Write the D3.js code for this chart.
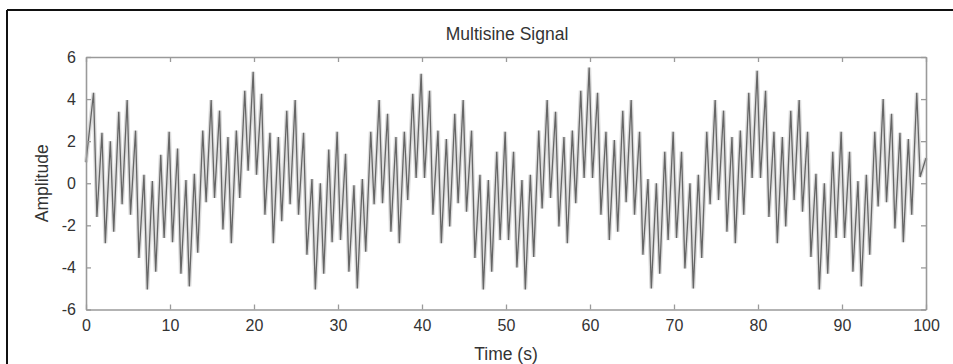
<!DOCTYPE html>
<html>
<head>
<meta charset="utf-8">
<script src="https://cdn.jsdelivr.net/npm/d3@7"></script>
<style>
  html, body { margin: 0; padding: 0; background: #fff; }
  svg { display: block; }
  text { font-family: "Liberation Sans", Arial, Helvetica, sans-serif; fill: #333; }
</style>
</head>
<body>
<svg id="chart" width="953" height="364"></svg>
<script>
// ---- Data ----
const chartTitle = "Multisine Signal";
const xLabel = "Time (s)";
const yLabel = "Amplitude";
const xTicks = [0, 10, 20, 30, 40, 50, 60, 70, 80, 90, 100];
const yTicks = [-6, -4, -2, 0, 2, 4, 6];

// value at t = 0 and at t = 100
const startAmp = 1.0;
const endAmp = 1.2;

// local maximum of each ~1 s cycle (cycle k, k = 1..99)
const peakAmp = [
  4.3, 2.4, 2.0, 3.4, 3.95, 2.5, 0.4, 0.1, 1.35, 2.45, 1.65, 0.15, 0.45, 2.5, 3.95, 3.45, 2.2, 2.5, 4.4, 5.3,
  4.25, 2.4, 2.2, 3.45, 3.95, 2.4, 0.2, 0.0, 1.6, 2.45, 1.4, -0.1, 0.2, 2.45, 3.95, 3.3, 2.2, 2.45, 4.25, 5.2,
  4.4, 2.5, 2.1, 3.3, 3.95, 2.5, 0.4, 0.15, 1.5, 2.45, 1.5, 0.15, 0.4, 2.5, 3.95, 3.4, 2.2, 2.5, 4.4, 5.5,
  4.3, 2.45, 2.05, 3.45, 3.95, 2.45, 0.2, 0.0, 1.5, 2.45, 1.5, 0.0, 0.4, 2.45, 3.95, 3.45, 2.2, 2.5, 4.3, 5.35,
  4.4, 2.45, 2.2, 3.45, 3.95, 2.45, 0.45, 0.0, 1.5, 2.45, 1.5, 0.1, 0.4, 2.45, 4.0, 3.3, 2.4, 2.1, 4.3
];
// local minimum following each peak (cycle k, k = 1..99)
const troughAmp = [
  -1.6, -2.85, -2.3, -1.0, -1.5, -3.55, -5.05, -4.2, -2.6, -2.8, -4.3, -4.9, -3.3, -0.9, -0.7, -2.2, -2.85, -0.7, 0.6, 0.4,
  -1.5, -2.85, -1.8, -1.0, -1.5, -3.4, -5.05, -4.3, -2.8, -2.7, -4.2, -5.0, -3.25, -1.0, -0.95, -2.3, -2.85, -0.8, 0.25, 0.25,
  -1.5, -2.85, -2.05, -0.95, -1.35, -3.55, -5.05, -4.2, -2.7, -2.7, -4.0, -5.05, -3.5, -1.2, -0.7, -2.05, -2.85, -0.95, 0.25, 0.25,
  -1.5, -2.7, -2.3, -0.9, -1.5, -3.4, -5.0, -4.3, -2.7, -2.6, -4.05, -5.0, -3.55, -1.0, -0.8, -2.3, -2.85, -1.5, 0.25, 0.25,
  -1.6, -2.85, -2.05, -0.8, -1.35, -3.5, -5.05, -4.3, -2.6, -2.6, -4.2, -4.9, -3.4, -1.1, -0.9, -2.15, -2.8, -1.5, 0.3
];

// ---- Build the series (time in seconds, amplitude) ----
const series = [{ t: 0, v: startAmp }];
peakAmp.forEach((p, i) => {
  const k = i + 1;
  series.push({ t: k - 0.1, v: p });
  series.push({ t: k + 0.3, v: troughAmp[i] });
});
series.push({ t: 100, v: endAmp });

// ---- Layout ----
const svg = d3.select("#chart");
const W = 953, H = 364;
const plot = { left: 86, right: 926, top: 57, bottom: 309.5 };

const x = d3.scaleLinear().domain([0, 100]).range([plot.left, plot.right]);
const y = d3.scaleLinear().domain([-6, 6]).range([plot.bottom, plot.top]);

// outer figure frame
svg.append("line").attr("x1", 7).attr("x2", W).attr("y1", 10).attr("y2", 10)
  .attr("stroke", "#111").attr("stroke-width", 2);
svg.append("line").attr("x1", 7).attr("x2", 7).attr("y1", 10).attr("y2", H)
  .attr("stroke", "#111").attr("stroke-width", 2);

// signal: soft gray underlay + darker trace (mimics the dense MATLAB trace)
const line = d3.line().x(d => x(d.t)).y(d => y(d.v));
svg.append("path")
  .datum(series)
  .attr("d", line)
  .attr("fill", "none")
  .attr("stroke", "#dcdcdc")
  .attr("stroke-width", 4)
  .attr("stroke-linejoin", "bevel");
svg.append("path")
  .datum(series)
  .attr("d", line)
  .attr("fill", "none")
  .attr("stroke", "#666")
  .attr("stroke-width", 1.3)
  .attr("stroke-linejoin", "bevel");

// axes (MATLAB-style box with inward ticks)
const axisColor = "#9a9a9a";
const tickLen = 5;
const fmt = d => String(d);
const gBottom = svg.append("g").attr("transform", `translate(0,${plot.bottom})`)
  .call(d3.axisBottom(x).tickValues(xTicks).tickFormat(fmt).tickSizeInner(-tickLen).tickSizeOuter(0).tickPadding(10));
const gTop = svg.append("g").attr("transform", `translate(0,${plot.top})`)
  .call(d3.axisTop(x).tickValues(xTicks).tickSizeInner(-tickLen).tickSizeOuter(0).tickFormat(""));
const gLeft = svg.append("g").attr("transform", `translate(${plot.left},0)`)
  .call(d3.axisLeft(y).tickValues(yTicks).tickFormat(fmt).tickSizeInner(-tickLen).tickSizeOuter(0).tickPadding(10));
const gRight = svg.append("g").attr("transform", `translate(${plot.right},0)`)
  .call(d3.axisRight(y).tickValues(yTicks).tickSizeInner(-tickLen).tickSizeOuter(0).tickFormat(""));

[gBottom, gTop, gLeft, gRight].forEach(g => {
  g.select(".domain").attr("stroke", axisColor).attr("stroke-width", 1.6);
  g.selectAll(".tick line").attr("stroke", axisColor).attr("stroke-width", 1.3);
  g.selectAll(".tick text").style("font-family", "'Liberation Sans', Arial, sans-serif")
    .style("font-size", "16px").attr("fill", "#333");
});

// title and labels
svg.append("text").attr("x", (plot.left + plot.right) / 2 + 1).attr("y", 40)
  .attr("text-anchor", "middle").style("font-size", "17.5px").text(chartTitle);
svg.append("text").attr("x", (plot.left + plot.right) / 2).attr("y", 360)
  .attr("text-anchor", "middle").style("font-size", "17.5px").text(xLabel);
svg.append("text")
  .attr("transform", `translate(48,${(plot.top + plot.bottom) / 2}) rotate(-90)`)
  .attr("text-anchor", "middle").style("font-size", "17.5px").text(yLabel);
</script>
</body>
</html>
